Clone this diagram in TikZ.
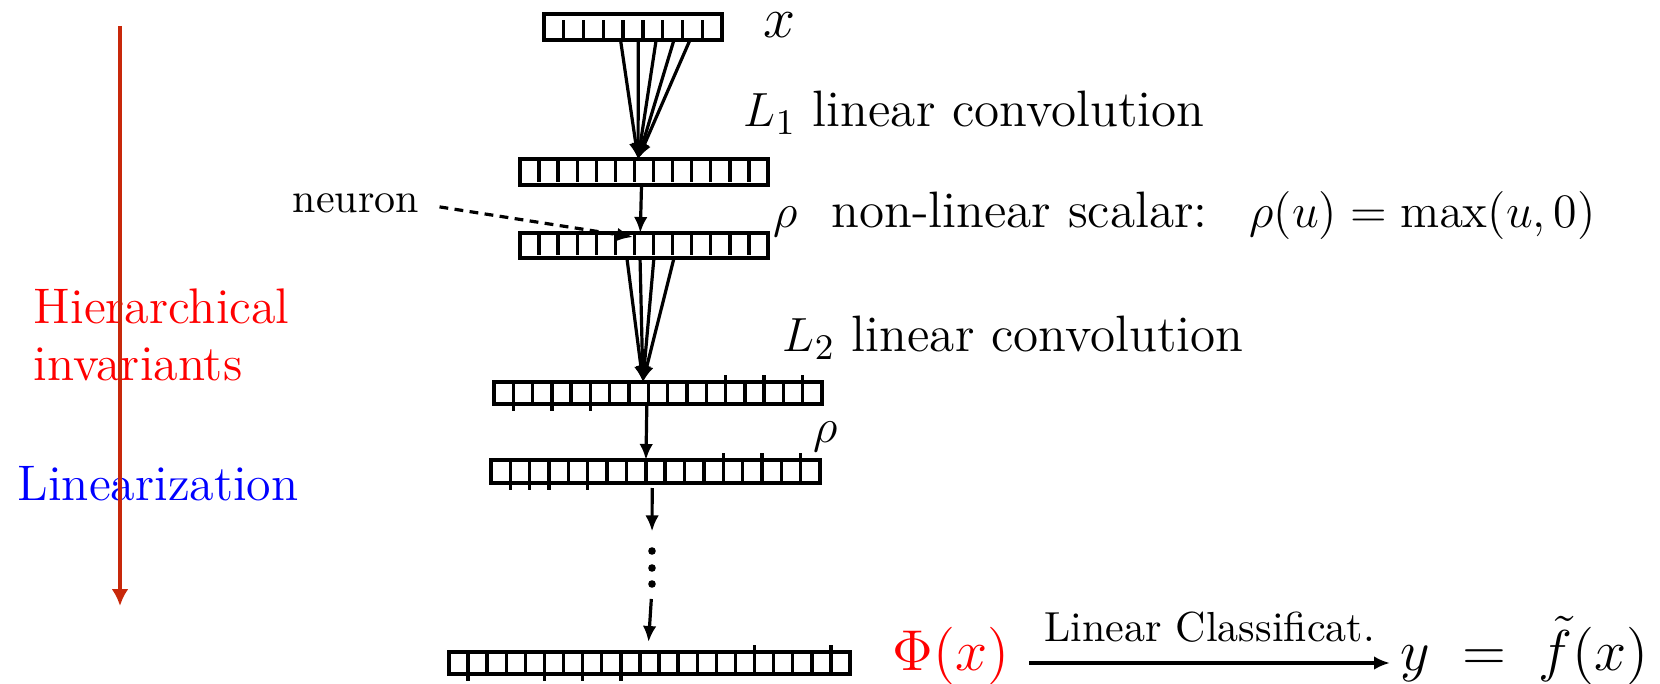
\documentclass[tikz,border=0pt]{standalone}
\usepackage{amsmath}
\usetikzlibrary{calc,arrows.meta}

\definecolor{arrowred}{RGB}{200,40,10}

\begin{document}
\begin{tikzpicture}[x=0.25pt, y=-0.25pt, >={Latex[length=4pt,width=3.4pt]},
    layer/.style={draw, line width=0.9pt, inner sep=0pt, outer sep=0pt},
    tick/.style={line width=0.85pt},
    arr/.style={->, line width=0.8pt},
    lab/.style={inner sep=0pt, anchor=base west, font=\fontsize{12.8}{15}\selectfont},
    big/.style={inner sep=0pt, anchor=base west, font=\fontsize{14}{17}\selectfont},
    dot/.style={circle, fill, inner sep=0pt, minimum size=1.9pt}]
  \useasboundingbox (0,0) rectangle (1660,684);
  % ------------------------------------------------------------------ left: captions and the long arrow
  \node[anchor=north west, inner sep=0pt, align=left, text=red,
        font=\fontsize{12.5}{14.25}\selectfont] (hier) at (33,288) {Hierarchical\\invariants};
  \node[lab, text=blue, font=\fontsize{12.5}{14.4}\selectfont] (lin) at (17,500) {Linearization};
  \coordinate (top) at (120,26);
  \coordinate (bot) at (120,606);
  \draw[-{Latex[length=4.2pt,width=4.2pt]}, arrowred, line width=1pt] (top) -- (bot);
  % ------------------------------------------------------------------ the layers
  % name / centre x / centre y / width / height / cells / gap below / gap above
  \foreach \nm/\cx/\cy/\w/\h/\n/\sb/\st in {
      l0/633/27/178/26/9/0/1.5, l1/644/172/248/26/13/0.8/0, l2/644/245.5/248/25/13/0.8/0,
      l3/658/393/328/22/17/0/0, l4/655.5/471.5/329/23/17/0/0, l5/649.5/663/401/22/21/0/0} {
    \node[layer, minimum width=\w*0.25pt, minimum height=\h*0.25pt] (\nm) at (\cx,\cy) {};
    \pgfmathtruncatemacro{\m}{\n-1}
    \foreach \k in {1,...,\m}
      \draw[tick, shorten <=\sb pt, shorten >=\st pt]
        ($(\nm.south west)!{\k/\n}!(\nm.south east)$) -- ($(\nm.north west)!{\k/\n}!(\nm.north east)$);
  }
  % ticks that stick out below / above
  \foreach \nm/\n/\dn/\up in {l3/17/{1,3,5}/{12,14,16}, l4/17/{1,2,3,5}/{12,14,16}, l5/21/{1,5,7,9}/{16,20}} {
    \foreach \k in \dn \draw[tick] ($(\nm.south west)!{\k/\n}!(\nm.south east)$) -- ++(0,7);
    \foreach \k in \up \draw[tick] ($(\nm.north west)!{\k/\n}!(\nm.north east)$) -- ++(0,-7);
  }
  % ------------------------------------------------------------------ connections between layers
  \coordinate (t1) at ($(l1.north west)!0.476!(l1.north east)$);
  \foreach \f in {0.43,0.53,0.63,0.73,0.82}
    \draw[arr] ($(l0.south west)!\f!(l0.south east)$) -- (t1);
  \draw[arr] ($(l1.south west)!0.49!(l1.south east)$) -- ($(l2.north west)!0.485!(l2.north east)$);
  \coordinate (t3) at ($(l3.north west)!0.454!(l3.north east)$);
  \foreach \f in {0.431,0.484,0.54,0.621}
    \draw[arr] ($(l2.south west)!\f!(l2.south east)$) -- (t3);
  \draw[arr] ($(l3.south west)!0.466!(l3.south east)$) -- ($(l4.north west)!0.471!(l4.north east)$);
  \foreach \i/\yy in {1/551,2/568,3/584}
    \node[dot] (d\i) at (652,\yy) {};
  \draw[arr, shorten <=1.25pt, shorten >=3.75pt] ($(l4.south west)!0.49!(l4.south east)$) -- (d1.north);
  \draw[arr, shorten <=2.6pt, shorten >=2.5pt] (d3.south) -- ($(l5.north west)!0.496!(l5.north east)$);
  % ------------------------------------------------------------------ labels on the right
  \node[lab, font=\fontsize{13.5}{15}\selectfont] (xlab) at (763,38) {$x$};
  \node[lab] (lone) at (743,127) {$L_1$ linear convolution};
  \node[lab] (rhoone) at (773,228) {$\rho$\ \ non-linear scalar:\ \ \,$\rho(u)=\max(u,0)$};
  \node[lab] (ltwo) at (782,352) {$L_2$ linear convolution};
  \node[lab] (rhotwo) at (813,442) {$\rho$};
  \node[lab, font=\fontsize{10.5}{12}\selectfont] (neuron) at (292,213) {neuron};
  \coordinate (cell) at (633,237);
  \draw[->, line width=0.8pt, dash pattern=on 2.2pt off 1.6pt, shorten <=5pt] (neuron.east) -- (cell);
  % ------------------------------------------------------------------ bottom: classifier
  \node[big, text=red] (phi) at (892,670) {$\Phi(x)$};
  \node[big] (ylab) at (1400,670) {$y\;=\;\tilde{f}(x)$};
  \draw[arr] ($(phi.base east)+(19,-7)$) -- ($(ylab.base west)+(-10,-7)$)
    node[midway, above=4.7pt, inner sep=0pt, font=\fontsize{10.5}{12}\selectfont] (clf) {Linear Classificat.};
\end{tikzpicture}
\end{document}
